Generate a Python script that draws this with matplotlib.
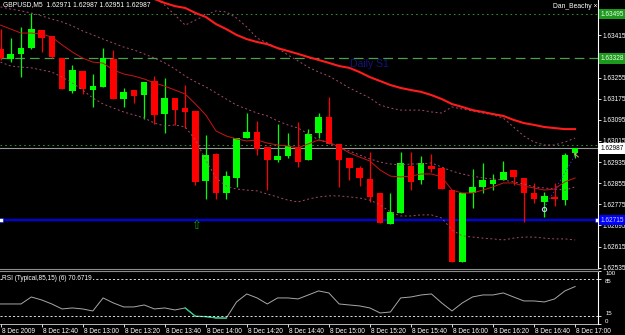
import matplotlib
matplotlib.use("Agg")
import matplotlib.pyplot as plt
import matplotlib.transforms as mtransforms
import numpy as np
from matplotlib import font_manager

_names = {f.name for f in font_manager.fontManager.ttflist}
FONT = "Liberation Sans Narrow" if "Liberation Sans Narrow" in _names else "Liberation Sans"
plt.rcParams["font.family"] = [FONT, "DejaVu Sans"]
plt.rcParams["lines.scale_dashes"] = False

# GBPUSD M5 candles, 8 Dec 2009 12:20 .. 17:00
opens = [1.63364, 1.63326, 1.63345, 1.63367, 1.63436, 1.63413, 1.63329, 1.63204, 1.63280, 1.63208,
         1.63220, 1.63326, 1.63174, 1.63208, 1.63189, 1.63242, 1.63117, 1.63178, 1.63140, 1.63129,
         1.62863, 1.62966, 1.62818, 1.62875, 1.63026, 1.63049, 1.62992, 1.62943, 1.62958, 1.62992,
         1.62943, 1.63045, 1.63106, 1.63004, 1.62951, 1.62913, 1.62871, 1.62818, 1.62701, 1.62742,
         1.62920, 1.62867, 1.62920, 1.62913, 1.62829, 1.62557, 1.62818, 1.62841, 1.62852, 1.62867,
         1.62905, 1.62875, 1.62818, 1.62784, 1.62803, 1.62791, 1.62971]
highs = [1.63439, 1.63405, 1.63447, 1.63500, 1.63436, 1.63413, 1.63329, 1.63303, 1.63280, 1.63269,
         1.63367, 1.63360, 1.63216, 1.63208, 1.63239, 1.63261, 1.63254, 1.63178, 1.63227, 1.63129,
         1.63038, 1.62970, 1.62901, 1.63026, 1.63121, 1.63091, 1.62992, 1.63079, 1.63045, 1.63087,
         1.63060, 1.63121, 1.63182, 1.63004, 1.62951, 1.62920, 1.62973, 1.62818, 1.62818, 1.62973,
         1.62973, 1.62958, 1.62966, 1.62913, 1.62829, 1.62818, 1.62909, 1.62932, 1.62890, 1.62939,
         1.62905, 1.62875, 1.62856, 1.62822, 1.62856, 1.62970, 1.62987]
lows = [1.63322, 1.63314, 1.63257, 1.63364, 1.63352, 1.63329, 1.63212, 1.63197, 1.63193, 1.63144,
        1.63220, 1.63174, 1.63144, 1.63159, 1.63098, 1.63079, 1.63045, 1.63076, 1.63064, 1.62848,
        1.62795, 1.62795, 1.62795, 1.62841, 1.63026, 1.62962, 1.62829, 1.62935, 1.62951, 1.62916,
        1.62943, 1.63026, 1.63004, 1.62841, 1.62867, 1.62844, 1.62784, 1.62704, 1.62701, 1.62742,
        1.62829, 1.62852, 1.62898, 1.62833, 1.62557, 1.62557, 1.62761, 1.62818, 1.62829, 1.62867,
        1.62848, 1.62708, 1.62780, 1.62727, 1.62769, 1.62773, 1.62951]
closes = [1.63329, 1.63345, 1.63367, 1.63439, 1.63405, 1.63333, 1.63212, 1.63284, 1.63212, 1.63223,
          1.63329, 1.63174, 1.63201, 1.63186, 1.63239, 1.63114, 1.63178, 1.63132, 1.63125, 1.62860,
          1.62962, 1.62818, 1.62882, 1.63026, 1.63049, 1.62985, 1.62943, 1.62958, 1.62996, 1.62935,
          1.63042, 1.63106, 1.63004, 1.62943, 1.62913, 1.62875, 1.62803, 1.62704, 1.62746, 1.62932,
          1.62860, 1.62932, 1.62909, 1.62833, 1.62557, 1.62818, 1.62841, 1.62867, 1.62867, 1.62898,
          1.62879, 1.62818, 1.62795, 1.62807, 1.62795, 1.62962, 1.62987]

# fast moving average and its dotted envelope
fast_ma = [1.63454, 1.63439, 1.63424, 1.63424, 1.63420, 1.63409, 1.63379, 1.63352, 1.63329, 1.63314,
           1.63310, 1.63284, 1.63269, 1.63261, 1.63250, 1.63235, 1.63223, 1.63208, 1.63193, 1.63155,
           1.63114, 1.63053, 1.63034, 1.63023, 1.63015, 1.63019, 1.63007, 1.63000, 1.62996, 1.62989,
           1.63004, 1.63019, 1.63011, 1.62992, 1.62970, 1.62954, 1.62939, 1.62905, 1.62882, 1.62879,
           1.62882, 1.62890, 1.62890, 1.62879, 1.62829, 1.62818, 1.62818, 1.62829, 1.62841, 1.62856,
           1.62856, 1.62844, 1.62837, 1.62829, 1.62833, 1.62860, 1.62875]
band_upper = [1.63523, 1.63515, 1.63508, 1.63500, 1.63489, 1.63477, 1.63466, 1.63451, 1.63432, 1.63417,
              1.63401, 1.63386, 1.63371, 1.63360, 1.63345, 1.63329, 1.63311, 1.63288, 1.63261, 1.63239,
              1.63220, 1.63197, 1.63174, 1.63151, 1.63136, 1.63121, 1.63110, 1.63091, 1.63076, 1.63064,
              1.63042, 1.63019, 1.63007, 1.62992, 1.62977, 1.62962, 1.62947, 1.62935, 1.62928, 1.62924,
              1.62928, 1.62928, 1.62932, 1.62916, 1.62901, 1.62890, 1.62882, 1.62875, 1.62871, 1.62867,
              1.62860, 1.62852, 1.62841, 1.62837, 1.62833, 1.62829, 1.62841]
band_lower = [1.63314, 1.63299, 1.63295, 1.63292, 1.63284, 1.63276, 1.63257, 1.63235, 1.63208, 1.63178,
              1.63155, 1.63140, 1.63125, 1.63114, 1.63102, 1.63083, 1.63072, 1.63076, 1.63068, 1.63019,
              1.62943, 1.62875, 1.62844, 1.62833, 1.62829, 1.62826, 1.62814, 1.62803, 1.62791, 1.62784,
              1.62795, 1.62803, 1.62807, 1.62807, 1.62803, 1.62799, 1.62791, 1.62773, 1.62746, 1.62731,
              1.62731, 1.62735, 1.62735, 1.62723, 1.62678, 1.62655, 1.62651, 1.62647, 1.62644, 1.62640,
              1.62647, 1.62651, 1.62651, 1.62647, 1.62644, 1.62644, 1.62640]

# slow moving average (thick) and its dotted companion, from candle 15 on
slow_start = 15
slow_ma = [1.63553, 1.63538, 1.63526, 1.63519, 1.63500, 1.63485, 1.63458, 1.63439, 1.63417, 1.63401,
           1.63390, 1.63382, 1.63367, 1.63356, 1.63345, 1.63333, 1.63322, 1.63311, 1.63299, 1.63292,
           1.63276, 1.63257, 1.63242, 1.63227, 1.63216, 1.63208, 1.63201, 1.63189, 1.63174, 1.63155,
           1.63144, 1.63132, 1.63125, 1.63117, 1.63110, 1.63095, 1.63083, 1.63076, 1.63068, 1.63064,
           1.63060, 1.63060]
slow_dots = [1.63561, 1.63530, 1.63492, 1.63454, 1.63473, 1.63492, 1.63508, 1.63504, 1.63481, 1.63447,
             1.63405, 1.63386, 1.63367, 1.63341, 1.63318, 1.63295, 1.63276, 1.63261, 1.63239, 1.63216,
             1.63197, 1.63178, 1.63151, 1.63140, 1.63132, 1.63132, 1.63132, 1.63125, 1.63121, 1.63144,
             1.63136, 1.63129, 1.63121, 1.63114, 1.63102, 1.63068, 1.63034, 1.63011, 1.63000, 1.63000,
             1.63011, 1.63026]

rsi = [37.8, 37.8, 37.8, 51.0, 45.4, 37.8, 28.4, 30.3, 28.4, 24.6,
       49.2, 39.7, 32.2, 32.2, 35.9, 28.4, 30.3, 26.5, 30.3, 14.5,
       14.0, 11.5, 11.0, 41.6, 56.7, 49.2, 37.8, 49.2, 49.2, 47.3,
       54.8, 62.4, 58.6, 37.8, 35.9, 34.1, 30.3, 20.8, 22.7, 49.2,
       51.0, 54.8, 56.7, 39.7, 24.6, 39.7, 51.0, 54.8, 54.8, 58.6,
       51.0, 43.5, 43.5, 41.6, 47.3, 62.4, 70.67]

level_top = 1.63495
level_s1 = 1.63328
level_mid = 1.63000
bid = 1.62987
level_blue = 1.62715

arrow_idx, arrow_price = [19], [1.62693]
circle_idx, circle_price = [53], [1.62757]
pointer_idx, pointer_price = [56], [1.62962]
trend_idx, trend_price = [53, 56], [1.62761, 1.62962]

# 1.63335 and 1.63495 sit under the level boxes, so they get no plain label
price_ticks = [1.62535, 1.62615, 1.62695, 1.62775, 1.62855, 1.62935, 1.63015,
               1.63095, 1.63175, 1.63255, 1.63415]
time_idx = [0, 4, 8, 12, 16, 20, 24, 28, 32, 36, 40, 44, 48, 52, 56]
time_labels = ["8 Dec 2009", "8 Dec 12:40", "8 Dec 13:00", "8 Dec 13:20", "8 Dec 13:40",
               "8 Dec 14:00", "8 Dec 14:20", "8 Dec 14:40", "8 Dec 15:00", "8 Dec 15:20",
               "8 Dec 15:40", "8 Dec 16:00", "8 Dec 16:20", "8 Dec 16:40", "8 Dec 17:00"]

W, H = 625, 335
FS = 4.7
GREEN, RED = "#00ff00", "#ff0000"
BAND = "#a34a6c"

fig = plt.figure(figsize=(W / 100, H / 100), dpi=100, facecolor="black")
ax = fig.add_axes([0, 1 - 269 / H, 598 / W, 269 / H], facecolor="black")
ax_rsi = fig.add_axes([0, 11 / H, 598 / W, 53 / H], facecolor="black", sharex=ax)

x = np.arange(len(opens))
o, h, l, c = map(np.array, (opens, highs, lows, closes))
up = c >= o
colors = np.where(up, GREEN, RED)

# horizontal levels
ax.axhline(level_top, color="#2f8f2f", lw=0.7, ls=(0, (1.2, 2.2)), zorder=1)
ax.axhline(level_s1, color="#4a9f4a", lw=0.9, ls=(0, (7, 3.6)), zorder=1)
ax.axhline(level_mid, color="#2f8f2f", lw=0.7, ls=(0, (1.2, 2.2)), zorder=1)
ax.axhline(bid, color="#9a9a9a", lw=0.8, zorder=1)
blend = mtransforms.blended_transform_factory(ax.transAxes, ax.transData)
ax.plot([0.002, 0.998], [level_blue, level_blue], transform=blend, color="#0000e6", lw=1.6,
        marker="s", ms=2.2, mfc="white", mec="#0000e6", mew=0.4, zorder=1)
ax.text(34.05, level_s1 - 0.00004, "Daily S1", color="#141482", fontsize=7.5,
        va="top", ha="left", zorder=1)

# candles
ax.vlines(x, l, h, colors=colors, lw=0.9, zorder=3)
body = np.maximum(np.abs(c - o), 0.00003)
ax.bar(x, body, bottom=np.minimum(o, c), width=0.64, color=colors, lw=0, zorder=3)

# indicators
ax.plot(x, band_upper, color=BAND, lw=0.7, ls=(0, (1.4, 1.8)), zorder=4)
ax.plot(x, band_lower, color=BAND, lw=0.7, ls=(0, (1.4, 1.8)), zorder=4)
sx = np.arange(slow_start, slow_start + len(slow_ma))
ax.plot(sx, slow_dots, color=BAND, lw=0.7, ls=(0, (1.4, 1.8)), zorder=4)
ax.plot(sx, slow_ma, color="#ff1c1c", lw=1.5, zorder=4)
ax.plot(x, fast_ma, color="#cc1414", lw=0.7, zorder=4)
ax.plot(trend_idx, trend_price, color="#3a3aff", lw=0.6, ls=(0, (1, 1.5)), zorder=5)

for i, p in zip(arrow_idx, arrow_price):
    ax.text(i, p, "\u21e7", color="#10a010", fontsize=8.5, ha="center", va="center",
            family="DejaVu Sans", zorder=5)
ax.plot(circle_idx, circle_price, "o", ms=3, mfc="none", mec="#c8c8ff", mew=0.8, zorder=5)
for i, p in zip(pointer_idx, pointer_price):
    ax.text(i + 0.15, p, "\u2196", color="#d2b070", fontsize=6, ha="center", va="center",
            family="DejaVu Sans", fontweight="bold", zorder=5)

ax.set_xlim(-0.05, 58.23)
ax.set_ylim(1.62530, 1.635492)

# price axis
ax.yaxis.tick_right()
ax.set_yticks(price_ticks)
ax.set_yticklabels([f"{t:.5f}" for t in price_ticks])
ax.tick_params(axis="y", colors="white", labelsize=FS, length=2, width=0.6, pad=1)
ax.tick_params(axis="x", bottom=False, labelbottom=False)
for side in ("left", "top"):
    ax.spines[side].set_visible(False)
ax.spines["right"].set_color("white")
ax.spines["right"].set_linewidth(0.8)
ax.spines["bottom"].set_color("#8c8c8c")
ax.spines["bottom"].set_linewidth(0.8)

for price, fc, tc in [(level_top, "#1d9a1d", "#e8ffe8"), (level_s1, "#1d9a1d", "#e8ffe8"),
                      (bid, "white", "black"), (level_blue, "#0000ff", "#d0d0ff")]:
    ax.text(1.004, price, f"{price:.5f}", transform=blend, fontsize=FS, color=tc,
            ha="left", va="center", zorder=6, clip_on=False,
            bbox=dict(boxstyle="square,pad=0.25", fc=fc, ec="none"))

# RSI panel
r = np.array(rsi)
ax_rsi.plot(x, r, color="#a8a8a8", lw=0.7)
for k in range(1, len(r)):
    if r[k] < 15:
        ax_rsi.plot(x[k - 1:k + 1], r[k - 1:k + 1], color="#22d08a", lw=0.9)
ax_rsi.axhline(85, color="white", lw=0.6, ls=(0, (1.5, 1.5)))
ax_rsi.axhline(15, color="white", lw=0.6, ls=(0, (1.5, 1.5)))
ax_rsi.set_ylim(0, 100)
ax_rsi.yaxis.tick_right()
ax_rsi.set_yticks([0, 15, 85, 100])
ax_rsi.set_yticklabels([])
ax_rsi.tick_params(axis="y", colors="white", length=2, width=0.6)
rblend = mtransforms.blended_transform_factory(ax_rsi.transAxes, ax_rsi.transData)
for val, lab, va in [(100, "100", "top"), (85, "85", "top"), (15, "15", "bottom"), (0, "0", "bottom")]:
    ax_rsi.text(1.012, val, lab, transform=rblend, fontsize=FS - 0.3, color="white", ha="left",
                va=va, clip_on=False)
ax_rsi.text(0.004, 0.86, "RSI (Typical,85,15) (6) 70.6719", transform=ax_rsi.transAxes,
            fontsize=FS, color="white", ha="left", va="center",
            bbox=dict(boxstyle="square,pad=0.1", fc="black", ec="none"))

ax_rsi.set_xticks(time_idx)
ax_rsi.set_xticklabels(time_labels)
ax_rsi.tick_params(axis="x", colors="white", labelsize=FS, length=2, width=0.6, pad=1)
shift = mtransforms.ScaledTranslation(1 / 100, 0, fig.dpi_scale_trans)
for lbl in ax_rsi.get_xticklabels():
    lbl.set_ha("left")
    lbl.set_transform(lbl.get_transform() + shift)
ax_rsi.spines["left"].set_visible(False)
ax_rsi.spines["top"].set_color("#8c8c8c")
ax_rsi.spines["top"].set_linewidth(0.8)
ax_rsi.spines["right"].set_color("white")
ax_rsi.spines["right"].set_linewidth(0.8)
ax_rsi.spines["bottom"].set_color("white")
ax_rsi.spines["bottom"].set_linewidth(0.5)

fig.text(3 / W, 1 - 5 / H, "GBPUSD,M5  1.62971 1.62987 1.62951 1.62987", fontsize=FS + 0.2,
         color="white", ha="left", va="center")
fig.text(553 / W, 1 - 6 / H, "Dan_Beachy \u00d7", fontsize=FS + 0.2, color="white",
         ha="left", va="center")

fig.savefig("out.png", dpi=100, facecolor="black")
plt.close(fig)
